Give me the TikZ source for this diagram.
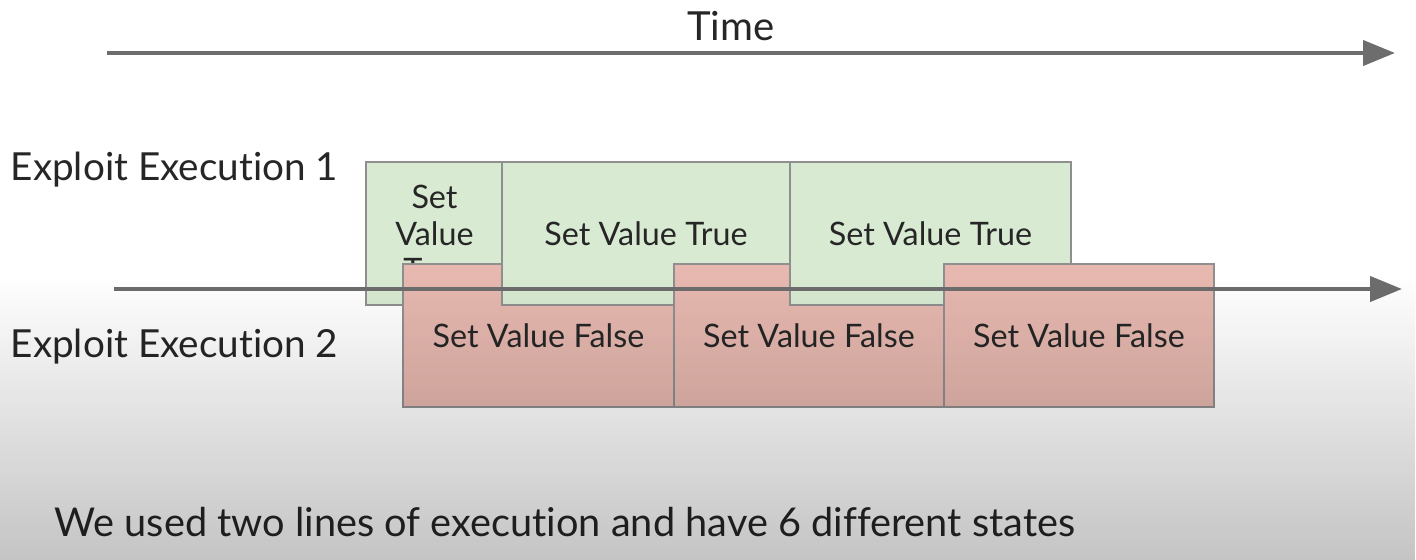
\documentclass[tikz,border=0pt]{standalone}
\usepackage{fontspec}
\setmainfont{Lato}[Ligatures=NoCommon]
\usetikzlibrary{arrows.meta,fadings}
\definecolor{axisgray}{HTML}{6D6D6D}
\definecolor{truefill}{HTML}{D9EAD3}
\definecolor{falsefill}{HTML}{E6B8AF}
\definecolor{boxline}{HTML}{8F8F8F}
\definecolor{textdark}{HTML}{262626}
\begin{document}
\begin{tikzpicture}[
  font=\fontsize{10.7}{10.5}\selectfont,
  timeline/.style={axisgray, line width=1.2pt, -{Triangle[length=0.32cm,width=0.25cm]}},
  truebox/.style={draw=boxline, fill=truefill, line width=0.4pt, inner sep=0pt,
    minimum height=1.43cm, text=textdark, align=center, font=\fontsize{9.2}{10.5}\selectfont},
  falsebox/.style={draw=boxline, fill=falsefill, line width=0.4pt, inner sep=0pt,
    minimum height=1.43cm, text=textdark, align=center, font=\fontsize{9.2}{10.5}\selectfont},
  label/.style={text=textdark, anchor=west, inner sep=0pt}
]
  \useasboundingbox[fill=white] (0, 0) rectangle (14.16, -5.6);
  \node (time) [text=textdark, font=\fontsize{11.4}{12}\selectfont] at (7.31, -0.26) {Time};
  \coordinate (t0) at (1.07, -0.53);
  \coordinate (t1) at (13.95, -0.53);
  \draw[timeline] (t0) -- (t1);
  \node (exec1) [label, font=\fontsize{11}{12}\selectfont] at (0.10, -1.70) {Exploit Execution 1};
  \node (exec2) [label, font=\fontsize{11}{12}\selectfont] at (0.10, -3.47) {Exploit Execution 2};
  \node (true1) [truebox, minimum width=1.37cm] at (4.345, -2.335) {Set\\Value\\True};
  \node (false1) [falsebox, minimum width=2.71cm] at (5.385, -3.355) {Set Value False};
  \node (true2) [truebox, minimum width=2.88cm] at (6.46, -2.335) {Set Value True};
  \node (false2) [falsebox, minimum width=2.70cm] at (8.09, -3.355) {Set Value False};
  \node (true3) [truebox, minimum width=2.81cm] at (9.305, -2.335) {Set Value True};
  \node (false3) [falsebox, minimum width=2.70cm] at (10.79, -3.355) {Set Value False};
  \coordinate (e0) at (1.14, -2.89);
  \coordinate (e1) at (14.02, -2.89);
  \draw[timeline] (e0) -- (e1);
  \node (summary) [label, font=\fontsize{11.3}{12}\selectfont] at (0.54, -5.22) {We used two lines of execution and have 6 different states};
  \fill[black, opacity=0.23, path fading=north] (0, -2.75) rectangle (14.16, -5.6);
\end{tikzpicture}
\end{document}
